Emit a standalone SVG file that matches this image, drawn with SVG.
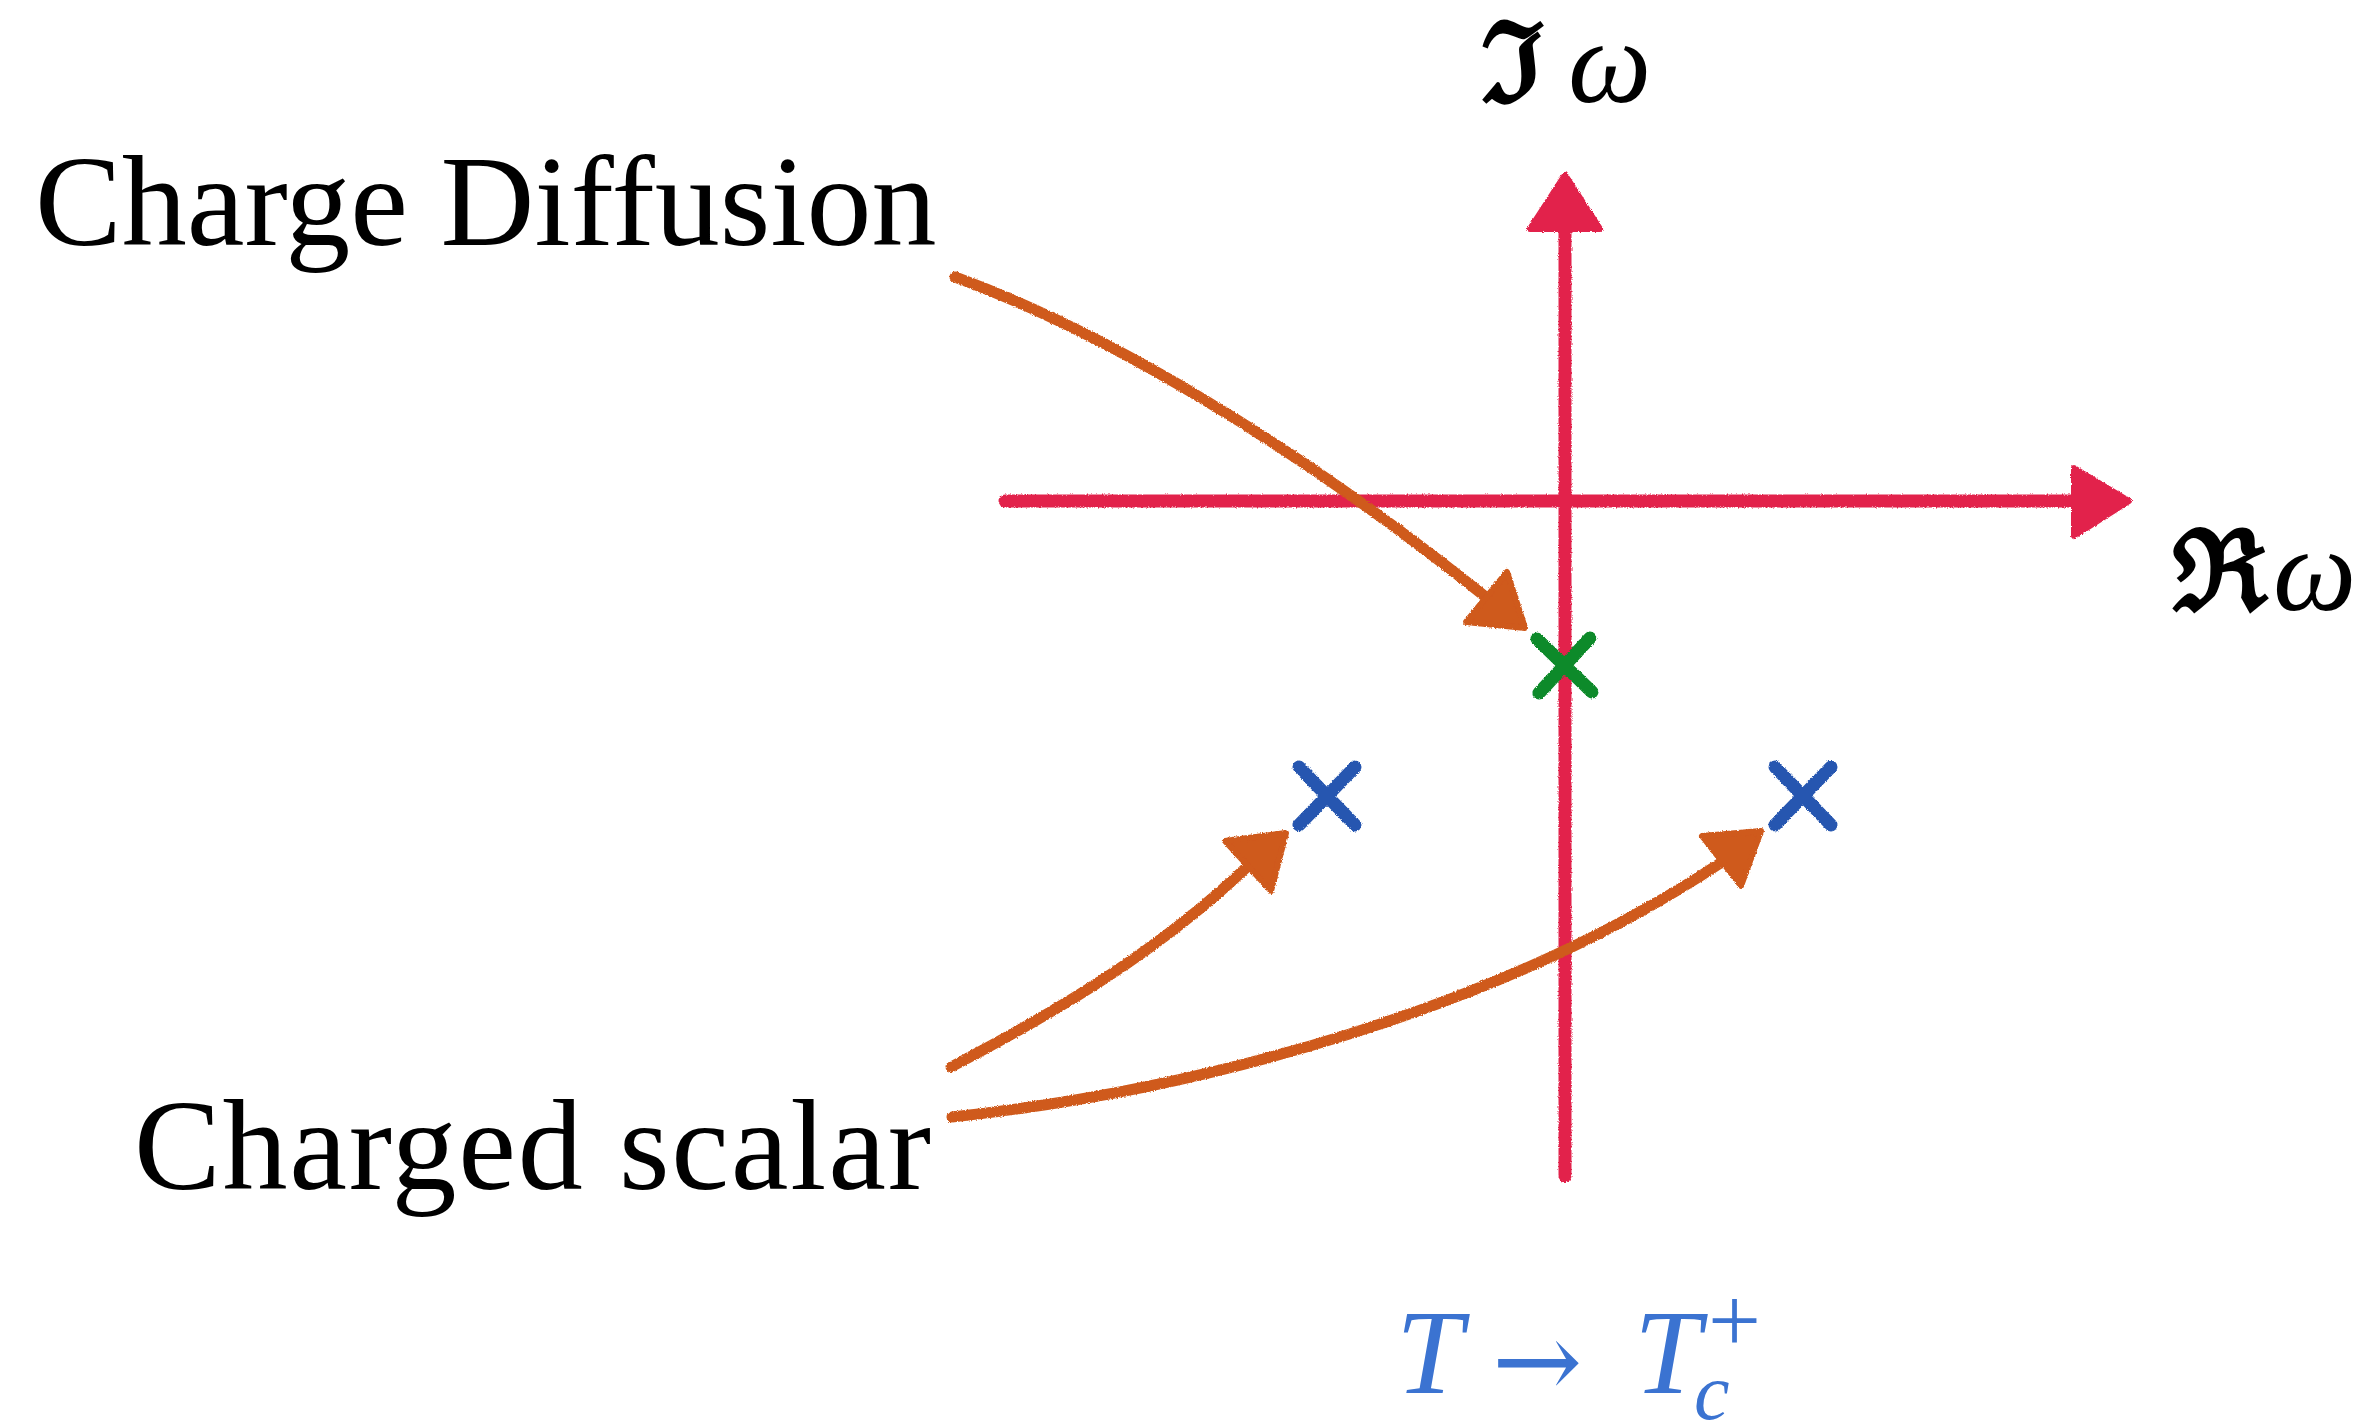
<svg xmlns="http://www.w3.org/2000/svg" width="2361" height="1423" viewBox="0 0 2361 1423">
<style>
.lbl{font-family:"Liberation Serif","DejaVu Serif",serif;font-size:130px;fill:#000}
.frak{font-family:"DejaVu Serif",serif;font-weight:bold;font-size:112px;fill:#000}
.om{font-family:"Liberation Serif","DejaVu Serif",serif;font-style:italic;font-size:118px;fill:#000}
.axis{stroke:#E2234C;stroke-width:13;stroke-linecap:round;fill:none}
.axhead{fill:#E2234C;stroke:#E2234C;stroke-width:6;stroke-linejoin:round}
.shaft{stroke:#CF5A1C;stroke-width:11;stroke-linecap:round;fill:none}
.ahead{fill:#CF5A1C;stroke:#CF5A1C;stroke-width:6;stroke-linejoin:round}
.xg{stroke:#0E8A2A;stroke-width:13;stroke-linecap:round;fill:none}
.xb{stroke:#2657B0;stroke-width:13;stroke-linecap:round;fill:none}
.tlab{font-family:"Liberation Serif","DejaVu Serif",serif;fill:#3B73D1}
.tarr{font-family:"DejaVu Serif",serif;fill:#3B73D1;font-size:108px}
</style>
<defs>
<filter id="crayon" filterUnits="userSpaceOnUse" x="0" y="0" width="2361" height="1423">
<feTurbulence type="fractalNoise" baseFrequency="0.8" numOctaves="2" seed="4" result="n"/>
<feDisplacementMap in="SourceGraphic" in2="n" scale="3" xChannelSelector="R" yChannelSelector="G"/>
</filter>
</defs>
<rect width="2361" height="1423" fill="#fff"/>

<g id="connectors" filter="url(#crayon)">
<g id="axis-real">
<line class="axis" x1="1005" y1="501" x2="2080" y2="501"/>
<polygon class="axhead" points="2074,468 2129,501 2074,536"/>
</g>
<g id="axis-imag">
<line class="axis" x1="1565" y1="1176" x2="1565" y2="226"/>
<polygon class="axhead" points="1530,229 1565,175 1600,229"/>
</g>
<g id="arrow-diffusion">
<path class="shaft" d="M955,277 C1100,330 1290,440 1487,598"/>
<polygon class="ahead" points="1466,622 1507,572 1525,628"/>
</g>
<g id="arrow-scalar-left">
<path class="shaft" d="M951,1067 C1060,1010 1160,950 1248,866"/>
<polygon class="ahead" points="1225,841 1286,833 1271,891"/>
</g>
<g id="arrow-scalar-right">
<path class="shaft" d="M952,1117 C1200,1090 1500,1010 1722,862"/>
<polygon class="ahead" points="1702,836 1761,831 1741,886"/>
</g>
</g>

<g id="pole-diffusion" filter="url(#crayon)">
<line class="xg" x1="1537" y1="639" x2="1592" y2="692"/>
<line class="xg" x1="1590" y1="638" x2="1539" y2="693"/>
</g>
<g id="pole-scalar-left" filter="url(#crayon)">
<line class="xb" x1="1299" y1="767" x2="1355" y2="825"/>
<line class="xb" x1="1355" y1="767" x2="1299" y2="825"/>
</g>
<g id="pole-scalar-right" filter="url(#crayon)">
<line class="xb" x1="1775" y1="767" x2="1831" y2="825"/>
<line class="xb" x1="1831" y1="767" x2="1775" y2="825"/>
</g>

<g id="label-imag">
<text class="frak" x="1481" y="102">ℑ</text>
<text class="om" x="1568" y="102">ω</text>
</g>
<g id="label-real">
<text class="frak" x="2172" y="610">ℜ</text>
<text class="om" x="2273" y="610">ω</text>
</g>
<g id="label-charge-diffusion">
<text class="lbl" x="35" y="245">Charge Diffusion</text>
</g>
<g id="label-charged-scalar">
<text class="lbl" x="134" y="1189" letter-spacing="1.8">Charged scalar</text>
</g>
<g id="label-temperature">
<text class="tlab" x="1396" y="1393" font-size="120" font-style="italic">T</text>
<text class="tarr" x="1492" y="1398">→</text>
<text class="tlab" x="1634" y="1393" font-size="120" font-style="italic">T</text>
<text class="tlab" x="1708" y="1352" font-size="94">+</text>
<text class="tlab" x="1694" y="1419" font-size="80" font-style="italic">c</text>
</g>
</svg>
